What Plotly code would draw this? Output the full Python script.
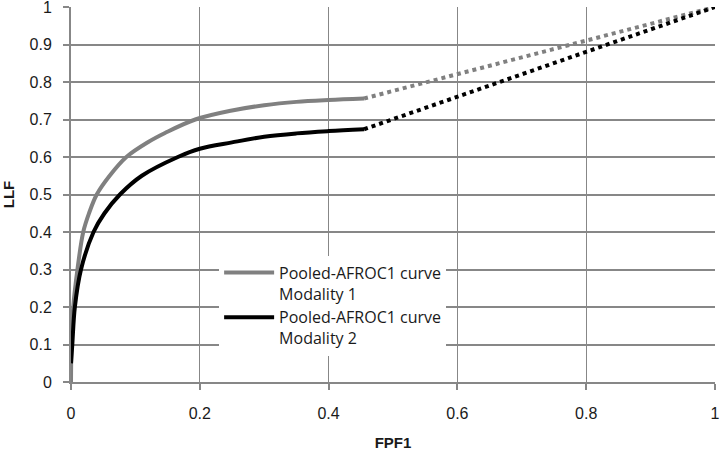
import plotly.graph_objects as go

# Pooled-AFROC1 curve, Modality 1 (solid part)
m1_fpf = [0.0, 0.0008, 0.0035, 0.010, 0.019, 0.028, 0.04, 0.06, 0.086, 0.12, 0.146, 0.193, 0.25, 0.3, 0.35, 0.4, 0.455]
m1_llf = [0.0, 0.1, 0.2, 0.3, 0.4, 0.45, 0.5, 0.55, 0.6, 0.64, 0.664, 0.7, 0.724, 0.738, 0.747, 0.752, 0.756]
# Modality 2 (solid part)
m2_fpf = [0.0, 0.002, 0.006, 0.0155, 0.035, 0.052, 0.076, 0.11, 0.166, 0.2, 0.25, 0.3, 0.35, 0.4, 0.455]
m2_llf = [0.05, 0.1, 0.2, 0.3, 0.4, 0.45, 0.5, 0.55, 0.6, 0.622, 0.639, 0.654, 0.663, 0.669, 0.674]
# dotted extensions to (1,1)
m1_ext_fpf = [0.455, 1.0]
m1_ext_llf = [0.756, 1.0]
m2_ext_fpf = [0.455, 1.0]
m2_ext_llf = [0.674, 1.0]

x_ticks = [0, 0.2, 0.4, 0.6, 0.8, 1]
x_ticktext = ["0", "0.2", "0.4", "0.6", "0.8", "1"]
y_ticks = [0, 0.1, 0.2, 0.3, 0.4, 0.5, 0.6, 0.7, 0.8, 0.9, 1]
y_ticktext = ["0", "0.1", "0.2", "0.3", "0.4", "0.5", "0.6", "0.7", "0.8", "0.9", "1"]

names = ["Pooled-AFROC1 curve<br>Modality 1", "Pooled-AFROC1 curve<br>Modality 2"]
colors = ["#808080", "#000000"]

FONT = "Liberation Sans"
GRID = "#878787"

fig = go.Figure()
fig.add_trace(go.Scatter(x=m1_fpf, y=m1_llf, mode="lines", name=names[0],
                         line=dict(color=colors[0], width=4, shape="spline", smoothing=1.0)))
fig.add_trace(go.Scatter(x=m2_fpf, y=m2_llf, mode="lines", name=names[1],
                         line=dict(color=colors[1], width=4, shape="spline", smoothing=1.0)))
fig.add_trace(go.Scatter(x=m1_ext_fpf, y=m1_ext_llf, mode="lines", showlegend=False,
                         line=dict(color=colors[0], width=4, dash="dot")))
fig.add_trace(go.Scatter(x=m2_ext_fpf, y=m2_ext_llf, mode="lines", showlegend=False,
                         line=dict(color=colors[1], width=4, dash="dot")))

fig.update_layout(
    width=720, height=455,
    margin=dict(l=71, r=5, t=7, b=73),
    paper_bgcolor="white", plot_bgcolor="white",
    font=dict(family=FONT, size=16, color="#1a1a1a"),
    showlegend=True,
    legend=dict(x=0.23, y=0.337, xanchor="left", yanchor="top",
                bgcolor="white", borderwidth=0, itemwidth=50,
                valign="top", tracegroupgap=0,
                font=dict(family="Open Sans", size=16, color="#1a1a1a")),
    xaxis=dict(range=[0, 1], tickvals=x_ticks, ticktext=x_ticktext,
               showgrid=True, gridcolor=GRID, gridwidth=1,
               showline=True, linecolor=GRID, linewidth=2, zeroline=False,
               ticks="outside", ticklen=6, tickcolor=GRID, tickwidth=1.5,
               ticklabelstandoff=10, automargin=False, ticklabeloverflow="allow",
               title=dict(text="<b>FPF1</b>", font=dict(size=15), standoff=16)),
    yaxis=dict(range=[0, 1], tickvals=y_ticks, ticktext=y_ticktext,
               showgrid=True, gridcolor=GRID, gridwidth=2,
               showline=True, linecolor=GRID, linewidth=2, zeroline=False,
               ticks="outside", ticklen=6, tickcolor=GRID, tickwidth=1.5,
               ticklabelstandoff=8, automargin=False, ticklabeloverflow="allow",
               title=dict(text="<b>LLF</b>", font=dict(size=15), standoff=12)),
)

fig.write_html("out.html", config={"displayModeBar": False},
               post_script="document.body.style.margin='0';document.body.style.padding='0';")
